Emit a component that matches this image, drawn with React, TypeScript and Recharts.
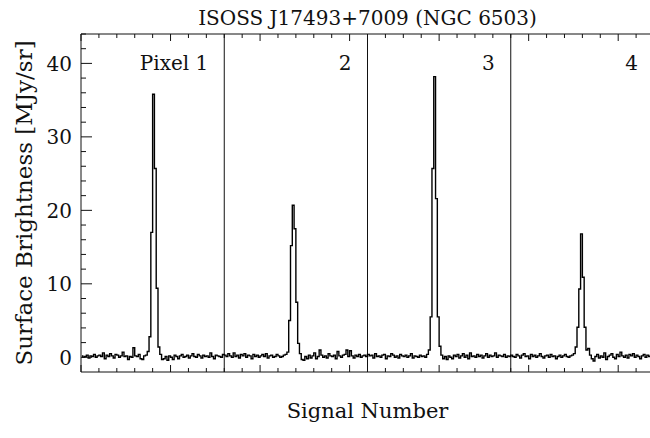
import React from 'react';
import { ComposedChart, Line, XAxis, YAxis, ReferenceLine } from 'recharts';

// Surface brightness per signal, one block of 80 signals per detector pixel
const pixel1 = [
  0.2, 0.0, 0.1, 0.3, -0.1, 0.2, 0.1, 0.4, 0.0, 0.2,
  0.3, 0.1, 0.6, -0.2, 0.3, 0.1, 0.5, 0.2, -0.1, 0.4,
  0.3, 0.0, 0.2, 0.7, 0.1, 0.2, -0.3, 0.1, 0.0, 1.3,
  0.2, 0.1, 0.4, -0.2, -0.3, 0.2, 0.3, 0.8, 2.8, 17.0,
  35.8, 25.7, 9.4, 1.4, 0.4, -0.3, -0.2, 0.1, -0.4, 0.2,
  0.0, -0.3, 0.3, 0.1, -0.2, 0.2, 0.4, 0.0, 0.1, 0.3,
  -0.1, 0.2, 0.5, 0.1, 0.0, 0.4, 0.2, -0.1, 0.3, 0.1,
  0.2, 0.0, 0.6, 0.1, -0.2, 0.3, 0.2, 0.1, 0.0, 0.4,
];
const pixel2 = [
  0.3, 0.1, 0.5, 0.2, 0.0, 0.6, 0.1, 0.3, -0.1, 0.4,
  0.2, 0.5, 0.0, 0.3, 0.2, -0.2, 0.4, 0.1, 0.3, 0.0,
  0.2, 0.4, 0.1, 0.5, -0.1, 0.2, 0.3, 0.0, 0.1, 0.4,
  0.2, 0.0, 0.1, 0.3, 0.4, 0.7, 5.0, 15.2, 20.7, 17.5,
  7.5, 1.9, 0.5, -0.3, -0.4, 0.1, -0.2, 0.3, -0.1, 0.2,
  0.6, -0.2, 0.1, 1.0, 0.3, 0.0, 0.2, -0.1, 0.5, 0.2,
  0.1, 0.3, -0.2, 0.8, 0.2, 0.0, 0.3, 0.4, 1.0, 0.1,
  0.9, 0.2, -0.1, 0.3, 0.1, 0.4, 0.0, 0.2, 0.3, 0.1,
];
const pixel3 = [
  0.4, 0.2, 0.3, -0.1, 0.5, 0.1, 0.2, 0.0, 0.3, 0.4,
  -0.2, 0.2, 0.1, 0.5, 0.3, 0.0, 0.2, -0.1, 0.4, 0.2,
  0.1, 0.3, 0.0, 0.2, 0.5, -0.1, 0.2, 0.1, 0.0, 0.3,
  0.1, 0.2, 0.0, 0.4, 1.0, 5.5, 25.7, 38.2, 21.6, 5.5,
  1.5, 0.3, -0.2, 0.1, -0.3, 0.2, 0.0, -0.2, 0.3, 0.1,
  0.4, -0.1, 0.2, 0.5, 0.0, 0.3, -0.2, 0.6, 0.1, 0.2,
  0.0, 0.4, 0.1, 0.3, -0.1, 0.2, 0.5, 0.0, 0.3, 0.1,
  0.2, 0.6, 0.0, 0.3, 0.2, 0.1, 0.4, 0.0, 0.2, 0.1,
];
const pixel4 = [
  0.3, 0.1, 0.0, 0.4, 0.2, -0.1, 0.3, 0.5, 0.1, 0.2,
  -0.2, 0.4, 0.1, 0.3, 0.0, 0.2, 0.5, 0.1, -0.1, 0.2,
  0.3, 0.0, 0.4, 0.1, 0.2, -0.2, 0.1, 0.3, 0.0, 0.2,
  0.4, 0.1, 0.0, 0.2, 0.3, 0.5, 1.4, 4.1, 9.3, 16.8,
  10.9, 4.1, 1.0, 1.2, 0.3, -0.2, -0.5, 0.1, 0.4, -0.1,
  0.2, 0.0, 0.6, -0.3, 0.1, 0.3, 0.5, 0.0, -0.2, 0.4,
  0.1, 0.7, 0.2, 0.0, 0.3, -0.1, 0.4, 0.2, 0.5, 0.0,
  0.3, 0.1, -0.2, 0.2, 0.4, 0.0, 0.3, 0.1, 0.2, 0.0,
];

const pixelLabels = ['Pixel 1', '2', '3', '4'];
const signalsPerPixel = 80;
const xTicks = Array.from({ length: 33 }, (_, i) => i * 10);
const yTicks = Array.from({ length: 23 }, (_, i) => i * 2);
const yMajorTicks = [0, 10, 20, 30, 40];

const series = [...pixel1, ...pixel2, ...pixel3, ...pixel4];
const data = series.map((v, i) => ({ signal: i + 0.5, brightness: v }));

const FONT = '"DejaVu Serif", serif';
const INK = '#111';

const W = 670;
const H = 438;
// axes are 1px thick bands; the plot area runs from x=81 to 654 and y=34 to 372
const margin = { top: 33, right: 15, bottom: 65, left: 80 };
const plotCx = 81 + (654 - 81) / 2;
const plotCy = 34 + (372 - 34) / 2;

const BottomTick = (p: any) => {
  const len = p.payload.value % 50 === 0 ? 7 : 4;
  return <line x1={p.x} x2={p.x} y1={p.y} y2={p.y - len} stroke={INK} strokeWidth={1} />;
};
const TopTick = (p: any) => {
  const len = p.payload.value % 50 === 0 ? 7 : 4;
  return <line x1={p.x} x2={p.x} y1={p.y} y2={p.y + len} stroke={INK} strokeWidth={1} />;
};
const LeftTick = (p: any) => {
  const v = p.payload.value;
  const major = yMajorTicks.includes(v);
  return (
    <g>
      <line x1={p.x} x2={p.x + (major ? 11 : 5)} y1={p.y} y2={p.y} stroke={INK} strokeWidth={1} />
      {major && (
        <text x={p.x - 9} y={p.y} dy="0.36em" textAnchor="end" fontFamily={FONT} fontSize={20} fill={INK}>
          {v}
        </text>
      )}
    </g>
  );
};
const RightTick = (p: any) => {
  const major = yMajorTicks.includes(p.payload.value);
  return <line x1={p.x} x2={p.x - (major ? 11 : 5)} y1={p.y} y2={p.y} stroke={INK} strokeWidth={1} />;
};

const PanelLabel = ({ viewBox, text }: any) => (
  <text
    x={viewBox.x - 16}
    y={viewBox.y + 36}
    textAnchor="end"
    fontFamily={FONT}
    fontSize={20}
    fill={INK}
  >
    {text}
  </text>
);

export default function App() {
  return (
    <div style={{ position: 'absolute', left: 0, top: 0, width: 650, height: 438, overflow: 'hidden', background: '#fff' }}>
      <ComposedChart width={W} height={H} data={data} margin={margin}>
        <XAxis
          xAxisId="bottom"
          dataKey="signal"
          type="number"
          domain={[0, 320]}
          ticks={xTicks}
          height={1}
          tickSize={0}
          tickMargin={0}
          axisLine={{ stroke: INK, strokeWidth: 1 }}
          tickLine={false}
          tick={<BottomTick />}
          interval={0}
        />
        <XAxis
          xAxisId="top"
          orientation="top"
          dataKey="signal"
          type="number"
          domain={[0, 320]}
          ticks={xTicks}
          height={1}
          tickSize={0}
          tickMargin={0}
          axisLine={{ stroke: INK, strokeWidth: 1 }}
          tickLine={false}
          tick={<TopTick />}
          interval={0}
        />
        <YAxis
          yAxisId="left"
          type="number"
          domain={[-2, 44]}
          ticks={yTicks}
          width={1}
          tickSize={0}
          tickMargin={0}
          axisLine={{ stroke: INK, strokeWidth: 1 }}
          tickLine={false}
          tick={<LeftTick />}
          interval={0}
        />
        <YAxis
          yAxisId="right"
          orientation="right"
          type="number"
          domain={[-2, 44]}
          ticks={yTicks}
          width={1}
          tickSize={0}
          tickMargin={0}
          axisLine={{ stroke: INK, strokeWidth: 1 }}
          tickLine={false}
          tick={<RightTick />}
          interval={0}
        />
        {pixelLabels.map((label, i) => (
          <ReferenceLine
            key={label}
            xAxisId="bottom"
            yAxisId="left"
            x={(i + 1) * signalsPerPixel}
            stroke={INK}
            strokeWidth={1}
            label={<PanelLabel text={label} />}
          />
        ))}
        <Line
          xAxisId="bottom"
          yAxisId="left"
          dataKey="brightness"
          type="step"
          stroke="#000"
          strokeWidth={1.4}
          dot={false}
          isAnimationActive={false}
        />
        <text x={plotCx} y={25} textAnchor="middle" fontFamily={FONT} fontSize={20} fill={INK}>
          ISOSS J17493+7009 (NGC 6503)
        </text>
        <text x={plotCx} y={418} textAnchor="middle" fontFamily={FONT} fontSize={21} fill={INK}>
          Signal Number
        </text>
        <text
          x={32}
          y={plotCy}
          transform={`rotate(-90 32 ${plotCy})`}
          textAnchor="middle"
          fontFamily={FONT}
          fontSize={23}
          fill={INK}
        >
          Surface Brightness [MJy/sr]
        </text>
      </ComposedChart>
    </div>
  );
}
